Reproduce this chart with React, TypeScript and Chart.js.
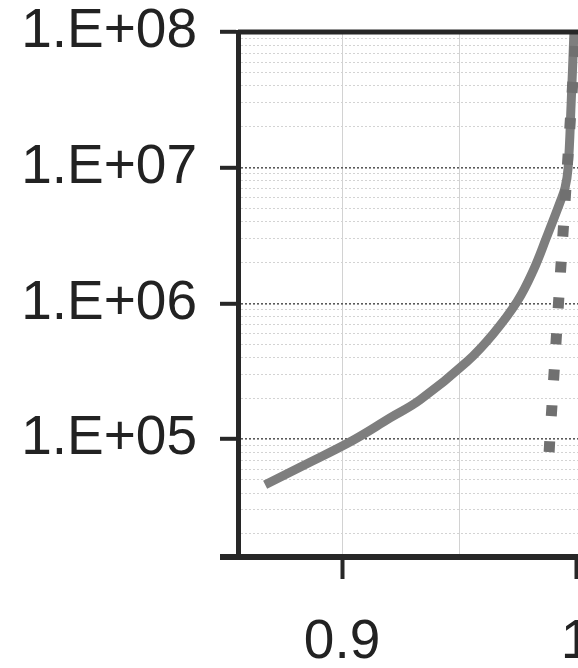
import React, { useEffect, useRef } from 'react';
import { Chart, registerables } from 'chart.js';

Chart.register(...registerables);

// Solid curve (grey)
const curveX = [0.8671, 0.882, 0.9047, 0.9205, 0.9333, 0.9534, 0.9645, 0.9748, 0.9816, 0.9876, 0.9932, 0.9953, 0.9966, 0.9979, 0.9991];
const curveY = [4.6e4, 6.2e4, 9.8e4, 1.43e5, 1.94e5, 3.72e5, 5.94e5, 1.03e6, 1.73e6, 3.13e6, 5.57e6, 7.1e6, 9.9e6, 2.95e7, 1.0e8];

// Square-dotted series
const dotX = [0.9885, 0.9888, 0.9925, 0.99624, 1.0];
const dotY = [8.0e4, 1.0e5, 1.0e6, 1.0e7, 1.0e8];

// Axis ranges and labelled ticks
const xMin = 0.8555;
const xMax = 1.05;
const xTickValues = [0.9, 0.95, 1.0];
const xTickLabels = ['0.9', '', '1'];
const xTickMarked = [true, false, true];

const yMin = 13500;
const yMax = 1e8;
const yDecades = [5, 6, 7, 8];
const yDecadeLabels = ['1.E+05', '1.E+06', '1.E+07', '1.E+08'];

const AXIS = '#272727';
const FONT = "'Liberation Sans', Arial, sans-serif";

const near = (a: number, b: number) => Math.abs(a - b) < 1e-9;
const isDecade = (v: number) => {
  const l = Math.log10(v);
  return Math.abs(l - Math.round(l)) < 1e-9;
};

const frameLines = {
  id: 'frameLines',
  afterDatasetsDraw(chart: any) {
    const { ctx, chartArea } = chart;
    ctx.save();
    ctx.strokeStyle = AXIS;
    ctx.lineWidth = 5;
    ctx.beginPath();
    ctx.moveTo(chartArea.left, chartArea.top);
    ctx.lineTo(chartArea.right, chartArea.top);
    ctx.stroke();
    // short extension of the bottom axis to the left of the y axis
    ctx.lineWidth = 6;
    ctx.beginPath();
    ctx.moveTo(chartArea.left - 18, chartArea.bottom);
    ctx.lineTo(chartArea.left, chartArea.bottom);
    ctx.stroke();
    ctx.restore();
  },
};

export default function App() {
  const ref = useRef<HTMLCanvasElement>(null);

  useEffect(() => {
    if (!ref.current) return;
    const chart = new Chart(ref.current, {
      type: 'line',
      data: {
        datasets: [
          {
            data: dotX.map((x, i) => ({ x, y: dotY[i] })),
            borderColor: '#707070',
            borderWidth: 11,
            borderDash: [11, 25],
            borderCapStyle: 'butt',
            pointRadius: 0,
            fill: false,
          },
          {
            data: curveX.map((x, i) => ({ x, y: curveY[i] })),
            borderColor: '#7e7e7e',
            borderWidth: 9,
            tension: 0.4,
            pointRadius: 0,
            fill: false,
          },
        ],
      },
      options: {
        animation: false,
        responsive: false,
        events: [],
        layout: { padding: { top: 32, right: 7, left: 0, bottom: 0 } },
        plugins: { legend: { display: false }, tooltip: { enabled: false } },
        scales: {
          x: {
            type: 'linear',
            min: xMin,
            max: xMax,
            afterFit: (s: any) => {
              s.height = 111;
              s.paddingLeft = 0;
              s.paddingRight = 0;
            },
            afterBuildTicks: (s: any) => {
              s.ticks = xTickValues.map((v) => ({ value: v }));
            },
            ticks: {
              autoSkip: false,
              maxRotation: 0,
              padding: 36,
              color: '#222',
              font: { family: FONT, size: 55, lineHeight: 1 },
              callback: (v: any) => {
                const i = xTickValues.findIndex((t) => near(t, Number(v)));
                return i >= 0 ? xTickLabels[i] : '';
              },
            },
            grid: {
              color: (c: any) => {
                const v = c.tick ? c.tick.value : NaN;
                return near(v, 0.9) || near(v, 0.95) ? '#d2d2d2' : 'rgba(0,0,0,0)';
              },
              lineWidth: 1,
              tickLength: 22,
              tickWidth: 4,
              tickColor: (c: any) => {
                const v = c.tick ? c.tick.value : NaN;
                const i = xTickValues.findIndex((t) => near(t, v));
                return i >= 0 && xTickMarked[i] ? AXIS : 'rgba(0,0,0,0)';
              },
            },
            border: { display: true, color: AXIS, width: 6 },
          },
          y: {
            type: 'logarithmic',
            min: yMin,
            max: yMax,
            afterFit: (s: any) => {
              s.width = 238;
              s.paddingTop = 0;
              s.paddingBottom = 0;
            },
            afterBuildTicks: (s: any) => {
              const vals: number[] = [];
              for (let e = 4; e <= 7; e++) {
                for (let m = 1; m <= 9; m++) {
                  const v = m * Math.pow(10, e);
                  if (v >= yMin && v <= yMax) vals.push(v);
                }
              }
              vals.push(yMax);
              s.ticks = vals.map((v) => ({ value: v, major: isDecade(v) }));
            },
            ticks: {
              autoSkip: false,
              padding: 23,
              color: '#222',
              font: { family: FONT, size: 55, lineHeight: 1 },
              callback: (v: any) => {
                const n = Number(v);
                if (!isDecade(n)) return '';
                const e = Math.round(Math.log10(n));
                const i = yDecades.indexOf(e);
                return i >= 0 ? yDecadeLabels[i] : '';
              },
            },
            grid: {
              color: (c: any) => {
                const v = c.tick ? c.tick.value : NaN;
                return isDecade(v) ? '#5a5a5a' : '#d3d3d3';
              },
              lineWidth: (c: any) => {
                const v = c.tick ? c.tick.value : NaN;
                return isDecade(v) ? 1.6 : 1;
              },
              tickLength: 18,
              tickWidth: 4,
              tickColor: (c: any) => {
                const v = c.tick ? c.tick.value : NaN;
                return isDecade(v) ? AXIS : 'rgba(0,0,0,0)';
              },
            },
            border: { display: true, color: AXIS, width: 5, dash: [2, 2] },
          },
        },
      },
      plugins: [frameLines],
    } as any);
    return () => chart.destroy();
  }, []);

  return (
    <div
      style={{
        position: 'fixed',
        left: 0,
        top: 0,
        width: 578,
        height: 668,
        overflow: 'hidden',
        background: '#fff',
      }}
    >
      <canvas ref={ref} width={700} height={668} style={{ display: 'block' }} />
    </div>
  );
}
